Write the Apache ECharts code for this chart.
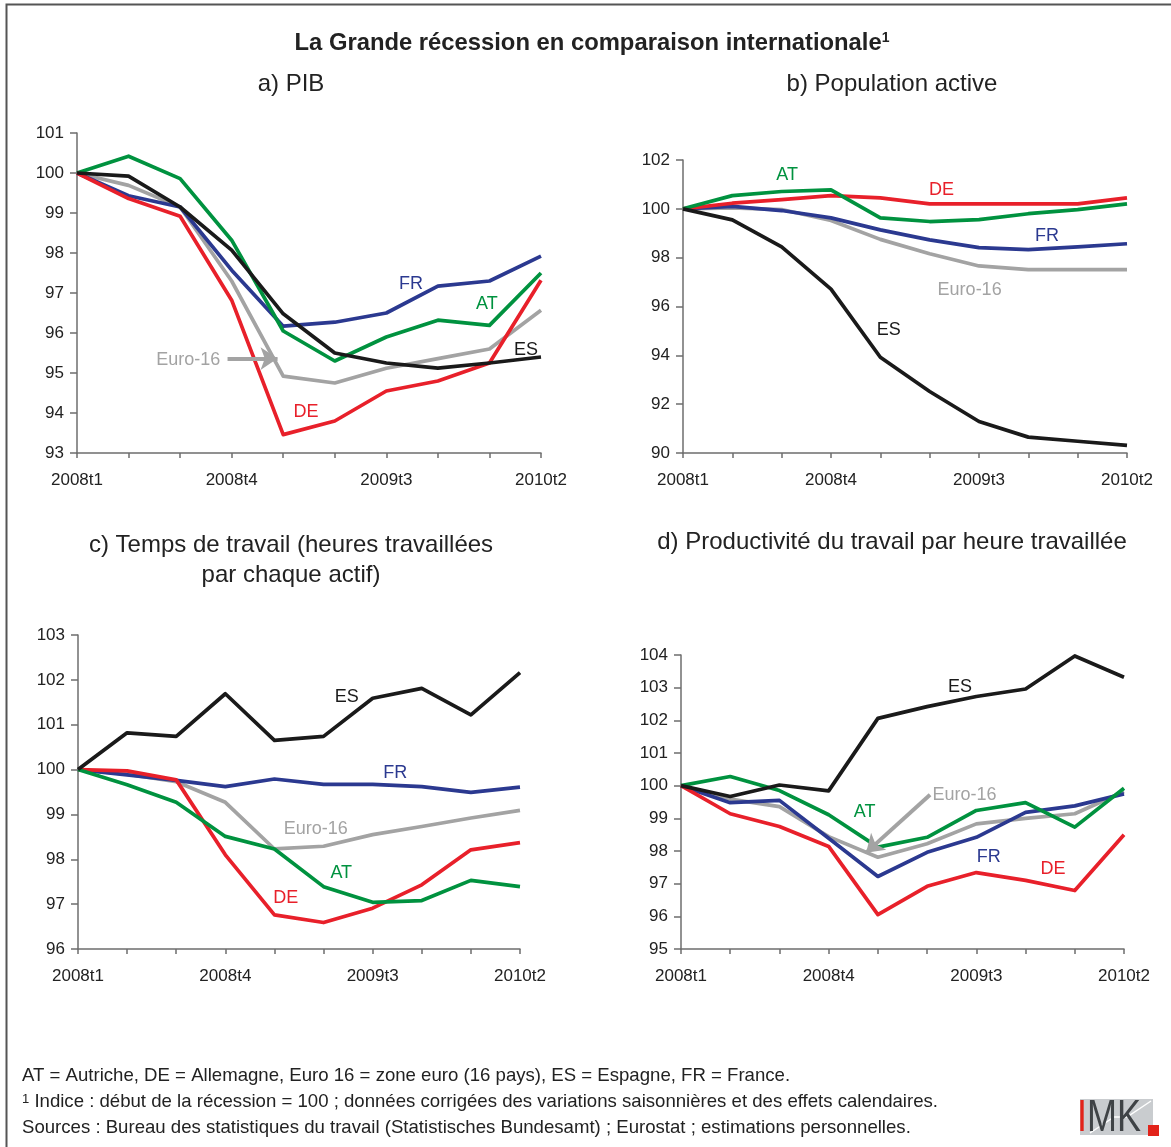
<!DOCTYPE html>
<html><head><meta charset="utf-8">
<script src="https://cdn.jsdelivr.net/npm/echarts/dist/echarts.min.js"></script>
<style>html,body{margin:0;padding:0;background:#fff}#c{width:1171px;height:1147px}</style>
</head><body><div id="c"></div>
<script>
const quarters = ['2008t1','2008t2','2008t3','2008t4','2009t1','2009t2','2009t3','2009t4','2010t1','2010t2'];

// a) PIB
const pibAT = [100, 100.42, 99.86, 98.32, 96.05, 95.30, 95.90, 96.32, 96.19, 97.50];
const pibDE = [100, 99.36, 98.92, 96.82, 93.46, 93.80, 94.55, 94.80, 95.25, 97.32];
const pibFR = [100, 99.43, 99.15, 97.57, 96.17, 96.27, 96.50, 97.17, 97.30, 97.92];
const pibES = [100, 99.92, 99.15, 98.07, 96.48, 95.50, 95.25, 95.12, 95.25, 95.40];
const pibEU = [100, 99.69, 99.15, 97.30, 94.92, 94.75, 95.12, 95.36, 95.60, 96.57];

// b) Population active
const popAT = [100, 100.54, 100.71, 100.78, 99.63, 99.48, 99.56, 99.80, 99.97, 100.20];
const popDE = [100, 100.23, 100.38, 100.54, 100.45, 100.20, 100.20, 100.20, 100.20, 100.45];
const popFR = [100, 100.10, 99.93, 99.63, 99.14, 98.73, 98.41, 98.33, 98.44, 98.57];
const popES = [100, 99.55, 98.44, 96.71, 93.92, 92.52, 91.29, 90.65, 90.48, 90.31];
const popEU = [100, 100.04, 99.97, 99.52, 98.75, 98.16, 97.66, 97.51, 97.51, 97.51];

// c) Temps de travail
const tpsAT = [100, 99.66, 99.27, 98.51, 98.23, 97.39, 97.04, 97.08, 97.53, 97.39];
const tpsDE = [100, 99.97, 99.77, 98.10, 96.76, 96.59, 96.91, 97.43, 98.21, 98.37];
const tpsFR = [100, 99.88, 99.76, 99.62, 99.79, 99.67, 99.67, 99.62, 99.49, 99.61];
const tpsES = [100, 100.82, 100.74, 101.69, 100.65, 100.74, 101.59, 101.81, 101.22, 102.16];
const tpsEU = [100, 99.90, 99.73, 99.27, 98.23, 98.29, 98.55, 98.73, 98.92, 99.09];

// d) Productivité horaire
const proAT = [100, 100.28, 99.85, 99.11, 98.12, 98.42, 99.24, 99.48, 98.73, 99.92];
const proDE = [100, 99.14, 98.75, 98.14, 96.05, 96.92, 97.34, 97.10, 96.79, 98.50];
const proFR = [100, 99.48, 99.55, 98.39, 97.22, 97.96, 98.42, 99.18, 99.38, 99.75];
const proES = [100, 99.67, 100.02, 99.84, 102.06, 102.42, 102.73, 102.96, 103.97, 103.32];
const proEU = [100, 99.59, 99.36, 98.44, 97.81, 98.22, 98.83, 99.00, 99.14, 99.82];

// y-axis ranges [min, max, interval]
const yRanges = [[93, 101, 1], [90, 102, 2], [96, 103, 1], [95, 104, 1]];

// annotation labels: [text, quarterIndex, value]
const labelsA = [['FR', 6.48, 97.22], ['AT', 7.95, 96.72], ['ES', 8.71, 95.57], ['DE', 4.44, 94.03], ['Euro-16', 2.16, 95.32]];
const labelsB = [['AT', 2.11, 101.40], ['DE', 5.24, 100.75], ['FR', 7.38, 98.87], ['Euro-16', 5.81, 96.67], ['ES', 4.17, 95.03]];
const labelsC = [['ES', 5.47, 101.61], ['FR', 6.46, 99.92], ['Euro-16', 4.84, 98.67], ['AT', 5.36, 97.69], ['DE', 4.23, 97.14]];
const labelsD = [['ES', 5.67, 103.03], ['AT', 3.73, 99.18], ['FR', 6.25, 97.81], ['DE', 7.56, 97.45], ['Euro-16', 5.76, 99.72]];
// arrows: [fromIdx, fromVal, toIdx, toVal]
const arrowA = [2.92, 95.36, 3.89, 95.36];
const arrowD = [5.06, 99.72, 3.76, 97.95];

const FONT = "'Liberation Sans', Arial, sans-serif";
const COLORS = { AT: '#00923f', DE: '#e8202a', FR: '#2b3990', ES: '#1a1a1a', 'Euro-16': '#a3a3a3' };

const grids = [
  { left: 77, top: 133, width: 464, height: 320 },
  { left: 683, top: 160, width: 444, height: 293 },
  { left: 78, top: 635, width: 442, height: 314 },
  { left: 681, top: 655, width: 443, height: 294 }
];

const panels = [
  { data: { 'Euro-16': pibEU, FR: pibFR, AT: pibAT, DE: pibDE, ES: pibES }, labels: labelsA, arrow: arrowA },
  { data: { 'Euro-16': popEU, FR: popFR, DE: popDE, AT: popAT, ES: popES }, labels: labelsB, arrow: null },
  { data: { 'Euro-16': tpsEU, FR: tpsFR, DE: tpsDE, AT: tpsAT, ES: tpsES }, labels: labelsC, arrow: null },
  { data: { 'Euro-16': proEU, FR: proFR, AT: proAT, DE: proDE, ES: proES }, labels: labelsD, arrow: arrowD }
];

const xAxes = [], yAxes = [], series = [];
panels.forEach((p, i) => {
  xAxes.push({
    gridIndex: i, type: 'value', min: 0, max: quarters.length - 1, interval: 1,
    splitLine: { show: false },
    axisLine: { show: true, lineStyle: { color: '#6e6e6e', width: 1.5 } },
    axisTick: { show: true, length: 5, lineStyle: { color: '#6e6e6e', width: 1.5 } },
    axisLabel: {
      fontFamily: FONT, fontSize: 17, color: '#222', margin: 19,
      showMinLabel: true, showMaxLabel: true,
      formatter: v => (v % 3 === 0 ? quarters[v] : '')
    }
  });
  const r = yRanges[i];
  yAxes.push({
    gridIndex: i, type: 'value', min: r[0], max: r[1], interval: r[2],
    splitLine: { show: false },
    axisLine: { show: true, lineStyle: { color: '#6e6e6e', width: 1.5 } },
    axisTick: { show: true, length: 7, lineStyle: { color: '#6e6e6e', width: 1.5 } },
    axisLabel: { fontFamily: FONT, fontSize: 17, color: '#222', margin: 13 }
  });
  Object.keys(p.data).forEach(name => {
    const vals = p.data[name];
    const s = {
      type: 'line', name: name, xAxisIndex: i, yAxisIndex: i,
      data: vals.map((v, k) => [k, v]),
      showSymbol: false, symbol: 'none', smooth: false,
      lineStyle: { color: COLORS[name], width: 3.7, join: 'round' },
      itemStyle: { color: COLORS[name] },
      silent: true, z: 2
    };
    const lab = p.labels.filter(l => l[0] === name);
    if (lab.length) {
      s.markPoint = {
        silent: true, animation: false,
        data: lab.map(l => ({
          coord: [l[1], l[2]], symbol: 'circle', symbolSize: 1,
          itemStyle: { color: 'rgba(0,0,0,0)' },
          label: { show: true, position: 'inside', formatter: l[0], color: COLORS[name], fontFamily: FONT, fontSize: 18 }
        }))
      };
    }
    if (name === 'Euro-16' && p.arrow) {
      const a = p.arrow;
      s.markLine = {
        silent: true, animation: false,
        symbol: ['none', 'arrow'], symbolSize: 17,
        label: { show: false },
        lineStyle: { color: '#a3a3a3', width: 4, type: 'solid' },
        data: [[{ coord: [a[0], a[1]] }, { coord: [a[2], a[3]] }]]
      };
    }
    series.push(s);
  });
});

const txt = (x, y, text, size, align, extra) => Object.assign({
  type: 'text', x: x, y: y, silent: true,
  style: Object.assign({
    text: text, fontFamily: FONT, fontSize: size, fill: '#222',
    align: align, textAlign: align, verticalAlign: 'middle', textVerticalAlign: 'middle'
  }, extra || {})
});

const graphic = [
  { type: 'polyline', silent: true, shape: { points: [[6.5, 1200], [6.5, 4.5], [1200, 4.5]] }, style: { stroke: '#555', lineWidth: 2, fill: null } },
  txt(592, 43, '{t|La Grande récession en comparaison internationale}{s|1}', 24, 'center', {
    rich: { t: { fontFamily: FONT, fontSize: 23.8, fontWeight: 'bold', fill: '#222' }, s: { fontFamily: FONT, fontSize: 14, fontWeight: 'bold', fill: '#222', verticalAlign: 'top' } }
  }),
  txt(291, 84, 'a) PIB', 24, 'center'),
  txt(892, 84, 'b) Population active', 24, 'center'),
  txt(291, 560, 'c) Temps de travail (heures travaillées\npar chaque actif)', 24, 'center', { lineHeight: 30 }),
  txt(892, 542, 'd) Productivité du travail par heure travaillée', 24, 'center'),
  txt(22, 1076, 'AT = Autriche, DE = Allemagne, Euro 16 = zone euro (16 pays), ES = Espagne, FR = France.', 18.6, 'left'),
  txt(22, 1102, '{s|1} {t|Indice : début de la récession = 100 ; données corrigées des variations saisonnières et des effets calendaires.}', 18.6, 'left', {
    rich: { t: { fontFamily: FONT, fontSize: 18.6, fill: '#222' }, s: { fontFamily: FONT, fontSize: 13, fill: '#222', verticalAlign: 'top' } }
  }),
  txt(22, 1128, 'Sources : Bureau des statistiques du travail (Statistisches Bundesamt) ; Eurostat ; estimations personnelles.', 18.6, 'left'),
  // logo
  { type: 'rect', silent: true, shape: { x: 1080, y: 1099, width: 73, height: 36 }, style: { fill: '#c9cccf' } },
  { type: 'polyline', silent: true, shape: { points: [[1090, 1133], [1114, 1117], [1127, 1117], [1151, 1101]] }, style: { stroke: '#fff', lineWidth: 1.5, fill: null } },
  { type: 'text', silent: true, x: 1077, y: 1141, scaleX: 0.8,
    style: { text: '{r|I}{g|MK}', align: 'left', textAlign: 'left', verticalAlign: 'bottom', textVerticalAlign: 'bottom',
      rich: { r: { fontFamily: FONT, fontSize: 45, fill: '#e2231a' }, g: { fontFamily: FONT, fontSize: 45, fill: '#3f4346' } } } },
  { type: 'rect', silent: true, shape: { x: 1148, y: 1125, width: 11, height: 11 }, style: { fill: '#e2231a' } }
];

const chart = echarts.init(document.getElementById('c'), null, { renderer: 'canvas' });
chart.setOption({
  animation: false,
  backgroundColor: '#fff',
  grid: grids.map(g => Object.assign({ containLabel: false }, g)),
  xAxis: xAxes,
  yAxis: yAxes,
  series: series,
  graphic: graphic
});
</script>
</body></html>
